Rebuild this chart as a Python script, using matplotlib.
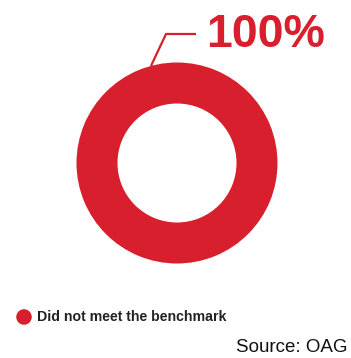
import matplotlib
matplotlib.use("Agg")
import matplotlib.pyplot as plt
import numpy as np

categories = ["Did not meet the benchmark"]
values = [100]
value_labels = ["100%"]
source = "Source: OAG"

RED = "#D71F2D"
W, H, DPI = 351, 358, 100
fig = plt.figure(figsize=(W / DPI, H / DPI), dpi=DPI)
ax = fig.add_axes([0, 0, 1, 1])

cx, cy, R, ring = 177, 163, 100.5, 41
ax.pie(values, radius=R, center=(cx, cy), colors=[RED], startangle=90,
       counterclock=False, wedgeprops=dict(width=ring, edgecolor="none"))
ax.set_xlim(0, W)
ax.set_ylim(H, 0)
ax.set_aspect("equal")
ax.axis("off")

# leader line
ang = np.deg2rad(105)
x0, y0 = cx + R * np.cos(ang), cy - R * np.sin(ang)
ax.plot([x0, 166, 196], [y0, 34, 34], color=RED, lw=1.6, solid_capstyle="butt")
ax.text(206, 47, value_labels[0], color=RED, fontsize=33.5, fontweight="bold",
        family="Liberation Sans", ha="left", va="baseline")

# legend
ax.scatter([24], [317], s=125, color=RED, edgecolors="none")
ax.text(37, 317, categories[0], color="#222222", fontsize=10.2, fontweight="bold",
        family="Liberation Sans", ha="left", va="center")

ax.text(347, 348, source, color="#111111", fontsize=13.5,
        family="Liberation Sans", ha="right", va="center")

fig.savefig("out.png", dpi=DPI, facecolor="white")
